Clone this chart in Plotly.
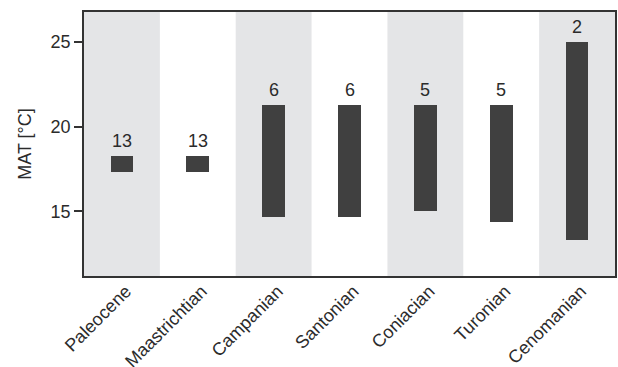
import plotly.graph_objects as go

# Stage names (youngest to oldest) and MAT ranges per stage
stages = ["Paleocene", "Maastrichtian", "Campanian", "Santonian",
          "Coniacian", "Turonian", "Cenomanian"]
mat_low = [17.3, 17.3, 14.7, 14.7, 15.0, 14.4, 13.3]
mat_high = [18.25, 18.25, 21.3, 21.3, 21.3, 21.3, 25.0]
n_samples = [13, 13, 6, 6, 5, 5, 2]

FONT = "Liberation Sans, Arial, sans-serif"
TEXT = "#2b2b2b"

fig = go.Figure()

fig.add_trace(go.Bar(
    x=stages,
    y=[h - l for h, l in zip(mat_high, mat_low)],
    base=mat_low,
    width=0.3,
    marker=dict(color="#404040", line=dict(width=0)),
    hoverinfo="skip",
    showlegend=False,
))

# alternating grey bands behind every other stage
for i in range(0, len(stages), 2):
    fig.add_shape(type="rect", xref="x", yref="paper",
                  x0=i - 0.5, x1=i + 0.5, y0=0, y1=1,
                  fillcolor="#e4e5e7", line=dict(width=0), layer="below")

# sample counts above each range
for s, h, n in zip(stages, mat_high, n_samples):
    fig.add_annotation(x=s, y=h, text=str(n), showarrow=False,
                       yanchor="bottom", yshift=3,
                       font=dict(family=FONT, size=18, color=TEXT))

fig.update_layout(
    width=618, height=367,
    margin=dict(l=84, r=3, t=12, b=91),
    paper_bgcolor="white", plot_bgcolor="white",
    font=dict(family=FONT, size=18, color=TEXT),
    bargap=0,
)
fig.update_xaxes(
    range=[-0.5, len(stages) - 0.5],
    tickangle=-45, ticks="", showgrid=False, automargin=False,
    ticklabelstandoff=-4, ticklabelshift=4,
    showline=True, linecolor="#333333", linewidth=1.5, mirror=True,
    tickfont=dict(family=FONT, size=18, color=TEXT),
)
fig.update_yaxes(
    range=[11.2, 26.75], automargin=False,
    tickvals=[15, 20, 25], ticks="outside", ticklen=8, tickwidth=1.5,
    tickcolor="#333333", showgrid=False, zeroline=False,
    showline=True, linecolor="#333333", linewidth=1.5, mirror=True,
    title=dict(text="MAT [°C]", standoff=14,
               font=dict(family=FONT, size=18, color=TEXT)),
    tickfont=dict(family=FONT, size=18, color=TEXT),
)

fig.write_html("out.html")
